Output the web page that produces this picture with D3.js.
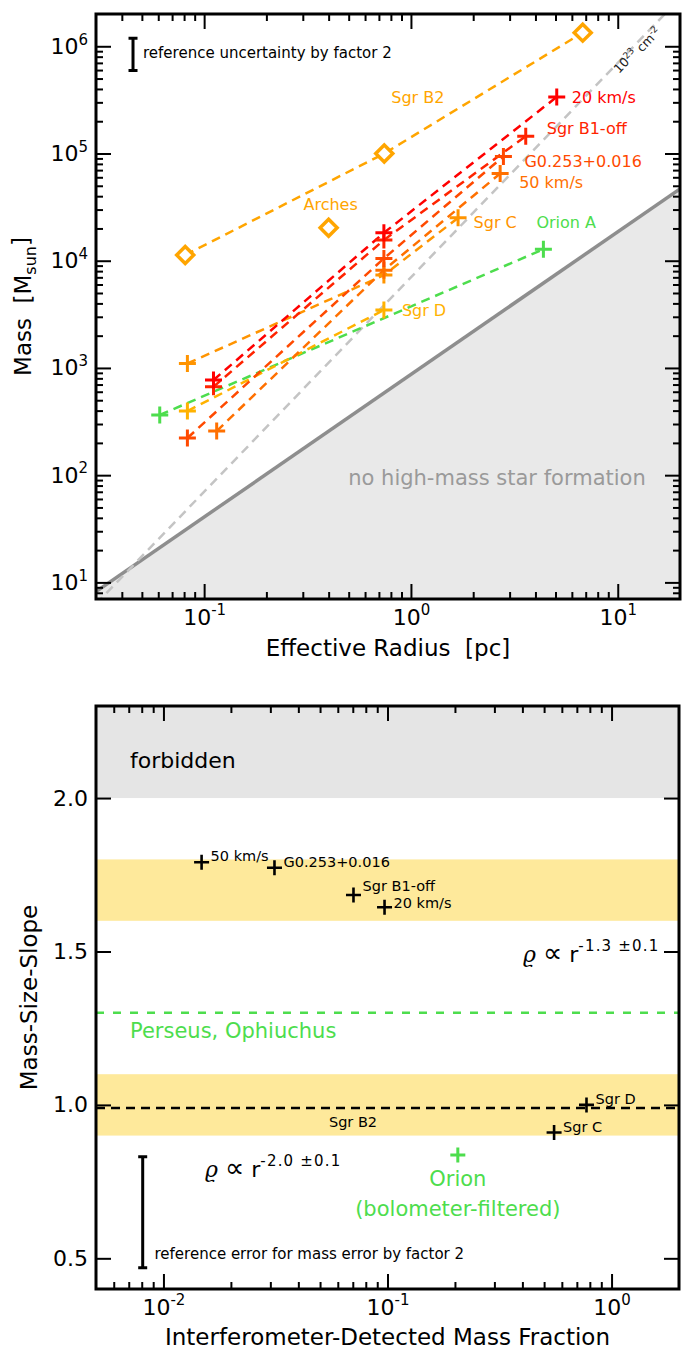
<!DOCTYPE html>
<html>
<head>
<meta charset="utf-8">
<script src="https://cdn.jsdelivr.net/npm/d3@7"></script>
<style>
  body { margin: 0; background: #fff; }
  svg { display: block; font-family: "DejaVu Sans", sans-serif; }
  text { white-space: pre; }
</style>
</head>
<body>
<svg id="chart" width="689" height="1350"></svg>
<script>
// ---- top panel: mass vs effective radius ----
const cloudNames  = ["20 km/s", "Sgr B1-off", "G0.253+0.016", "50 km/s", "Sgr C", "Sgr D", "Sgr B2", "Orion A"];
const cloudRadius = [[0.111, 0.74, 5.07], [0.111, 0.74, 3.59], [0.083, 0.74, 2.80], [0.115, 0.74, 2.70],
                     [0.083, 0.74, 1.69], [0.083, 0.74], [0.081, 0.743, 6.77], [0.061, 4.37]];
const cloudMass   = [[771, 18200, 337000], [668, 15600, 145000], [222, 10500, 94000], [258, 8170, 65000],
                     [1100, 7340, 25100], [396, 3470], [11300, 100000, 1340000], [364, 12800]];
const cloudColors = ["#ff0000", "#ff2400", "#ff4a00", "#ff7000", "#ff9400", "#ffb200", "#ffa500", "#4ddd4d"];
const cloudMarker = ["plus", "plus", "plus", "plus", "plus", "plus", "diamond", "plus"];

const archesRadius = [0.40];
const archesMass   = [20300];

// M = 870 Msun (R/pc)^1.33 threshold, and constant column density 1e23 cm^-2
const thresholdCoef = 870, thresholdExp = 1.33;
const columnCoef = 7000, columnExp = 2;

const radiusDomain = [0.03, 20];
const massDomain   = [7, 2e6];

// ---- bottom panel: slope vs detected mass fraction ----
const slopeNames       = ["50 km/s", "G0.253+0.016", "Sgr B1-off", "20 km/s", "Sgr D", "Sgr C"];
const detectedFraction = [0.0148, 0.0313, 0.0705, 0.097, 0.773, 0.554];
const massSizeSlope    = [1.791, 1.773, 1.684, 1.644, 1.00, 0.910];
const orionFraction = [0.206];
const orionSlope    = [0.837];
const sgrB2Slope    = 0.99;
const perseusSlope  = 1.3;
const forbiddenSlope = 2.0;
const slopeBands    = [[1.6, 1.8], [0.9, 1.1]];
const slopeTicks    = [0.5, 1.0, 1.5, 2.0];

const fractionDomain = [0.005, 2];
const slopeDomain    = [0.4, 2.3];

// ---- layout ----
const topBox = { left: 96, right: 680, top: 14, bottom: 599 };
const botBox = { left: 96, right: 679, top: 706, bottom: 1289 };

const svg = d3.select("#chart");

const xTop = d3.scaleLog().domain(radiusDomain).range([topBox.left, topBox.right]);
const yTop = d3.scaleLog().domain(massDomain).range([topBox.bottom, topBox.top]);
const xBot = d3.scaleLog().domain(fractionDomain).range([botBox.left, botBox.right]);
const yBot = d3.scaleLinear().domain(slopeDomain).range([botBox.bottom, botBox.top]);

function decadeTicks(lo, hi) {
  const major = [], minor = [];
  for (let e = Math.floor(Math.log10(lo)); e <= Math.ceil(Math.log10(hi)); e++) {
    for (let k = 1; k < 10; k++) {
      const v = k * Math.pow(10, e);
      if (v <= lo * 1.0001 || v >= hi * 0.9999) continue;
      (k === 1 ? major : minor).push(v);
    }
  }
  return { major, minor };
}

function powLabel(t, d) {
  const e = Math.round(Math.log10(d));
  t.text(null);
  t.append("tspan").text("10");
  t.append("tspan").attr("dy", "-0.62em").attr("font-size", "15px").text(e);
}

function styleAxis(g) {
  g.attr("font-size", 22).attr("font-family", null);
  g.select(".domain").remove();
  g.selectAll(".tick line").attr("stroke", "#000").attr("stroke-width", 2);
  g.selectAll(".tick text").attr("fill", "#000");
}

// draws inward ticks on all four sides
function drawAxes(x, y, box, xt, yt, fmtX, fmtY) {
  const sides = [
    [d3.axisBottom, x, `translate(0,${box.bottom})`, xt, fmtX],
    [d3.axisTop, x, `translate(0,${box.top})`, xt, null],
    [d3.axisLeft, y, `translate(${box.left},0)`, yt, fmtY],
    [d3.axisRight, y, `translate(${box.right},0)`, yt, null]
  ];
  sides.forEach(([axisFn, scale, tr, ticks, fmt]) => {
    svg.append("g").attr("transform", tr)
      .call(axisFn(scale).tickValues(ticks.minor).tickSize(-7).tickSizeOuter(0).tickFormat(""))
      .call(styleAxis);
    const isX = axisFn === d3.axisBottom || axisFn === d3.axisTop;
    const g = svg.append("g").attr("transform", tr)
      .call(axisFn(scale).tickValues(ticks.major).tickSize(-15).tickSizeOuter(0)
        .tickPadding(isX ? 10 : 8).tickFormat(fmt ? (d => d) : ""))
      .call(styleAxis);
    if (fmt) g.selectAll(".tick text").each(function (d) { fmt(d3.select(this), d); });
  });
  svg.append("rect")
    .attr("x", box.left).attr("y", box.top)
    .attr("width", box.right - box.left).attr("height", box.bottom - box.top)
    .attr("fill", "none").attr("stroke", "#000").attr("stroke-width", 3);
}

function plusPath(px, py, s) { return `M${px - s},${py}H${px + s}M${px},${py - s}V${py + s}`; }
function diamondPath(px, py, s) { return `M${px},${py - s}L${px + s},${py}L${px},${py + s}L${px - s},${py}Z`; }

// ================= TOP PANEL =================
const defs = svg.append("defs");
defs.append("clipPath").attr("id", "clipTop").append("rect")
  .attr("x", topBox.left).attr("y", topBox.top)
  .attr("width", topBox.right - topBox.left).attr("height", topBox.bottom - topBox.top);

const gTop = svg.append("g").attr("clip-path", "url(#clipTop)");

const threshold = r => thresholdCoef * Math.pow(r, thresholdExp);
const column = r => columnCoef * Math.pow(r, columnExp);

// shaded "no high-mass star formation" zone
gTop.append("path")
  .attr("d", d3.line()([
    [xTop(radiusDomain[0]), yTop(threshold(radiusDomain[0]))],
    [xTop(radiusDomain[1]), yTop(threshold(radiusDomain[1]))],
    [xTop(radiusDomain[1]), yTop(massDomain[0])],
    [xTop(radiusDomain[0]), yTop(massDomain[0])]
  ]) + "Z")
  .attr("fill", "#e9e9e9");

gTop.append("path")
  .attr("d", d3.line().x(r => xTop(r)).y(r => yTop(threshold(r)))(radiusDomain))
  .attr("fill", "none").attr("stroke", "#8e8e8e").attr("stroke-width", 3.5);

gTop.append("path")
  .attr("d", d3.line().x(r => xTop(r)).y(r => yTop(column(r)))(radiusDomain))
  .attr("fill", "none").attr("stroke", "#c4c4c4").attr("stroke-width", 2.5)
  .attr("stroke-dasharray", "9,6");

const lineTop = d3.line().x(d => xTop(d[0])).y(d => yTop(d[1]));

// draw Sgr B2 first so the red/orange clouds lie on top
const drawOrder = [6, 7, 5, 4, 3, 2, 1, 0];
drawOrder.forEach(i => {
  const pts = cloudRadius[i].map((r, j) => [r, cloudMass[i][j]]);
  gTop.append("path")
    .attr("d", lineTop(pts))
    .attr("fill", "none").attr("stroke", cloudColors[i]).attr("stroke-width", 2.5)
    .attr("stroke-dasharray", "9,6");
});
drawOrder.forEach(i => {
  cloudRadius[i].forEach((r, j) => {
    const px = xTop(r), py = yTop(cloudMass[i][j]);
    if (cloudMarker[i] === "diamond") {
      gTop.append("path").attr("d", diamondPath(px, py, 8.5))
        .attr("fill", "#fff").attr("stroke", cloudColors[i]).attr("stroke-width", 3.5);
    } else {
      gTop.append("path").attr("d", plusPath(px, py, 8.5))
        .attr("stroke", cloudColors[i]).attr("stroke-width", 3);
    }
  });
});
archesRadius.forEach((r, j) => {
  gTop.append("path").attr("d", diamondPath(xTop(r), yTop(archesMass[j]), 8.5))
    .attr("fill", "#fff").attr("stroke", "#ffa500").attr("stroke-width", 3.5);
});

// labels next to the outermost point of each cloud
const topLabelOffset = {
  "20 km/s": [15, 6], "Sgr B1-off": [21, -2.5], "G0.253+0.016": [21, 10.5], "50 km/s": [19, 14],
  "Sgr C": [15.5, 10.5], "Sgr D": [18, 6], "Orion A": [-7, -21]
};
cloudNames.forEach((name, i) => {
  const off = topLabelOffset[name];
  if (!off) return;
  const last = cloudRadius[i].length - 1;
  svg.append("text")
    .attr("x", xTop(cloudRadius[i][last]) + off[0])
    .attr("y", yTop(cloudMass[i][last]) + off[1])
    .attr("font-size", 16).attr("fill", cloudColors[i])
    .text(name);
});
svg.append("text")
  .attr("x", xTop(cloudRadius[6][1]) + 7).attr("y", yTop(cloudMass[6][1]) - 51)
  .attr("font-size", 16).attr("fill", "#ffa500").text("Sgr B2");
svg.append("text")
  .attr("x", xTop(archesRadius[0]) + 2).attr("y", yTop(archesMass[0]) - 18)
  .attr("text-anchor", "middle").attr("font-size", 16).attr("fill", "#ffa500").text("Arches");

// column density label along the dashed line
const colLbl = svg.append("text")
  .attr("transform", "translate(619,74) rotate(-46)")
  .attr("font-size", 12.5).attr("fill", "#222");
colLbl.append("tspan").text("10");
colLbl.append("tspan").attr("dy", "-0.5em").attr("font-size", 9).text("23");
colLbl.append("tspan").attr("dy", "0.5em").text(" cm");
colLbl.append("tspan").attr("dy", "-0.5em").attr("font-size", 9).text("-2");

svg.append("text")
  .attr("x", 497).attr("y", 484.5).attr("text-anchor", "middle")
  .attr("font-size", 21).attr("fill", "#9a9a9a")
  .text("no high-mass star formation");

// reference error bar (factor 2 in mass)
const barR = 0.0453, barLo = 5.95e5, barHi = 1.19e6;
svg.append("path")
  .attr("d", `M${xTop(barR)},${yTop(barLo)}V${yTop(barHi)}` +
             `M${xTop(barR) - 4.5},${yTop(barLo)}h9M${xTop(barR) - 4.5},${yTop(barHi)}h9`)
  .attr("stroke", "#000").attr("stroke-width", 3).attr("fill", "none");
svg.append("text")
  .attr("x", xTop(barR) + 10).attr("y", yTop(Math.sqrt(barLo * barHi)) + 4)
  .attr("font-size", 15).attr("fill", "#000")
  .text("reference uncertainty by factor 2");

drawAxes(xTop, yTop, topBox,
  decadeTicks(...radiusDomain), decadeTicks(...massDomain), powLabel, powLabel);

svg.append("text")
  .attr("x", (topBox.left + topBox.right) / 2).attr("y", 656)
  .attr("text-anchor", "middle").attr("font-size", 23)
  .text("Effective Radius  [pc]");
const yLabTop = svg.append("text")
  .attr("transform", `translate(31,${(topBox.top + topBox.bottom) / 2}) rotate(-90)`)
  .attr("text-anchor", "middle").attr("font-size", 23);
yLabTop.append("tspan").text("Mass  [M");
yLabTop.append("tspan").attr("dy", "0.3em").attr("font-size", 16).text("sun");
yLabTop.append("tspan").attr("dy", "-0.3em").text("]");

// ================= BOTTOM PANEL =================
const gBot = svg.append("g");
const bx0 = botBox.left, bw = botBox.right - botBox.left;

gBot.append("rect")
  .attr("x", bx0).attr("y", yBot(slopeDomain[1])).attr("width", bw)
  .attr("height", yBot(forbiddenSlope) - yBot(slopeDomain[1]))
  .attr("fill", "#e5e5e5");
slopeBands.forEach(b => {
  gBot.append("rect")
    .attr("x", bx0).attr("y", yBot(b[1])).attr("width", bw)
    .attr("height", yBot(b[0]) - yBot(b[1]))
    .attr("fill", "#fee99b");
});

gBot.append("line")
  .attr("x1", bx0).attr("x2", botBox.right).attr("y1", yBot(perseusSlope)).attr("y2", yBot(perseusSlope))
  .attr("stroke", "#4ddd4d").attr("stroke-width", 2.5).attr("stroke-dasharray", "8,9");
gBot.append("line")
  .attr("x1", bx0).attr("x2", botBox.right).attr("y1", yBot(sgrB2Slope)).attr("y2", yBot(sgrB2Slope))
  .attr("stroke", "#000").attr("stroke-width", 2.5).attr("stroke-dasharray", "9,6");

// small vertical nudges keep the crowded labels apart
const slopeLabelDy = { "Sgr B1-off": -4, "20 km/s": 0.5 };
slopeNames.forEach((name, i) => {
  const px = xBot(detectedFraction[i]), py = yBot(massSizeSlope[i]);
  gBot.append("path").attr("d", plusPath(px, py, 7.5))
    .attr("stroke", "#000").attr("stroke-width", 2.6);
  gBot.append("text").attr("x", px + 9).attr("y", py + (slopeLabelDy[name] ?? -1))
    .attr("font-size", 14.5).attr("fill", "#000").text(name);
});
orionFraction.forEach((f, i) => {
  gBot.append("path").attr("d", plusPath(xBot(f), yBot(orionSlope[i]), 7.5))
    .attr("stroke", "#4ddd4d").attr("stroke-width", 3);
});

gBot.append("text").attr("x", 130).attr("y", 768)
  .attr("font-size", 22).attr("fill", "#000").text("forbidden");
gBot.append("text").attr("x", 130).attr("y", 1037.5)
  .attr("font-size", 21).attr("fill", "#4ddd4d").text("Perseus, Ophiuchus");
gBot.append("text").attr("x", 353).attr("y", 1126.5).attr("text-anchor", "middle")
  .attr("font-size", 14.5).attr("fill", "#000").text("Sgr B2");
gBot.append("text").attr("x", xBot(orionFraction[0])).attr("y", 1185.5).attr("text-anchor", "middle")
  .attr("font-size", 21).attr("fill", "#4ddd4d").text("Orion");
gBot.append("text").attr("x", xBot(orionFraction[0])).attr("y", 1215.5).attr("text-anchor", "middle")
  .attr("font-size", 21).attr("fill", "#4ddd4d").text("(bolometer-filtered)");

function rhoLabel(x, y, exponent) {
  const t = gBot.append("text").attr("x", x).attr("y", y).attr("font-size", 22).attr("fill", "#000");
  t.append("tspan").attr("font-family", "DejaVu Serif").attr("font-style", "italic").text("ϱ");
  t.append("tspan").text(" ");
  t.append("tspan").attr("font-size", 27).text("∝");
  t.append("tspan").text(" r");
  t.append("tspan").attr("dy", "-0.75em").attr("font-size", 15).attr("letter-spacing", 1.2).text(exponent);
}
rhoLabel(523, 962, "-1.3 ±0.1");
rhoLabel(205, 1177, "-2.0 ±0.1");

// reference error bar
const ebFrac = 0.00808, ebLo = 0.4695, ebHi = 0.8314;
gBot.append("path")
  .attr("d", `M${xBot(ebFrac)},${yBot(ebLo)}V${yBot(ebHi)}` +
             `M${xBot(ebFrac) - 4.5},${yBot(ebLo)}h9M${xBot(ebFrac) - 4.5},${yBot(ebHi)}h9`)
  .attr("stroke", "#000").attr("stroke-width", 3).attr("fill", "none");
gBot.append("text").attr("x", 154.5).attr("y", 1258.5)
  .attr("font-size", 15).attr("fill", "#000")
  .text("reference error for mass error by factor 2");

drawAxes(xBot, yBot, botBox,
  decadeTicks(...fractionDomain), { major: slopeTicks, minor: [] },
  powLabel, (t, d) => t.text(d3.format(".1f")(d)));

svg.append("text")
  .attr("x", (botBox.left + botBox.right) / 2).attr("y", 1345)
  .attr("text-anchor", "middle").attr("font-size", 23)
  .text("Interferometer-Detected Mass Fraction");
svg.append("text")
  .attr("transform", `translate(37,${(botBox.top + botBox.bottom) / 2}) rotate(-90)`)
  .attr("text-anchor", "middle").attr("font-size", 23)
  .text("Mass-Size-Slope");
</script>
</body>
</html>
